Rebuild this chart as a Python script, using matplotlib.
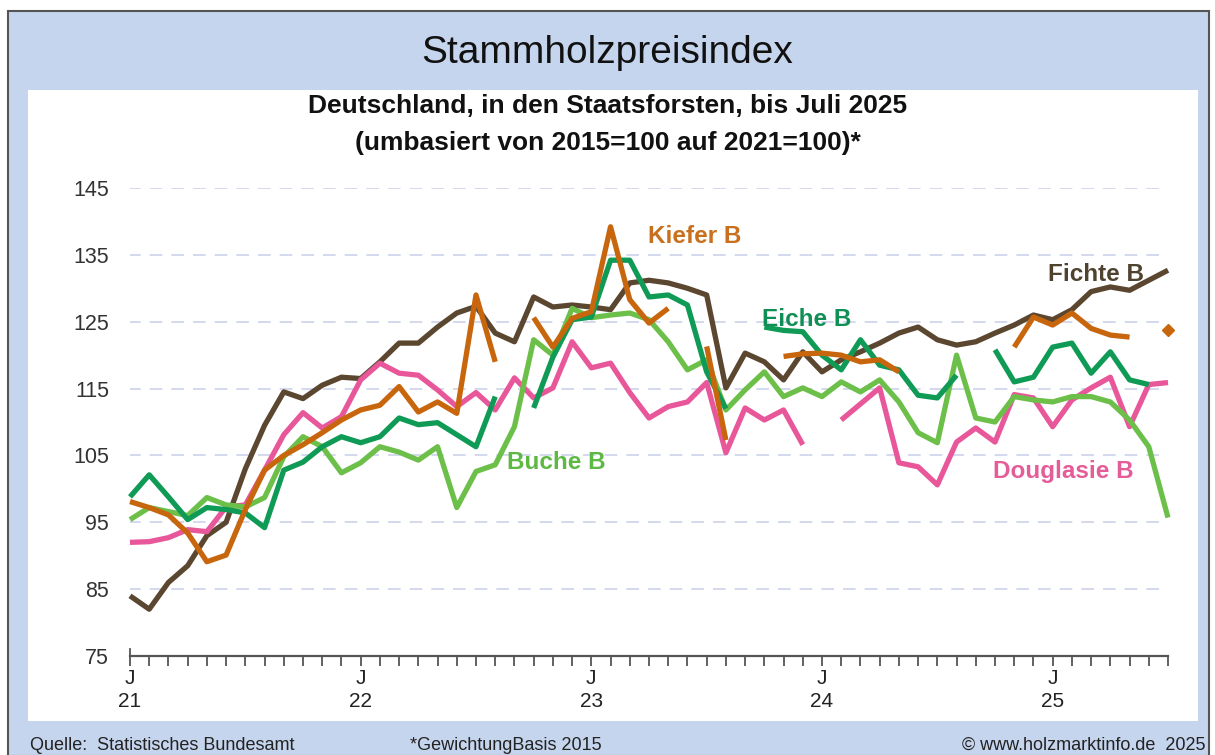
import matplotlib.pyplot as plt
from matplotlib.patches import Rectangle
import numpy as np

nan = np.nan

# monthly index values, Jan 2021 .. Jul 2025 (55 months)
fichte = [84, 82, 86, 88.5, 93, 95, 103, 109.5, 114.5, 113.5, 115.5, 116.7,
          116.5, 119, 121.8, 121.8, 124.2, 126.3, 127.3, 123.3, 122, 128.7, 127.2, 127.5,
          127.2, 126.8, 130.8, 131.2, 130.8, 130, 129, 115.1, 120.3, 119, 116.3, 120.5,
          117.5, 119.3, 120.5, 121.8, 123.3, 124.2, 122.3, 121.5, 122, 123.3, 124.5, 126,
          125.3, 126.8, 129.5, 130.2, 129.7, 131.2, 132.7]
kiefer = [98.1, 97.2, 96.1, 93.4, 89.1, 90.1, 96.9, 102.8, 105, 106.6, 108.4, 110.3,
          111.8, 112.5, 115.3, 111.5, 113, 111.3, 129, 119, nan, 125.6, 121.2, 125.5,
          126.5, 139.2, 128.3, 124.8, 127, nan, 121.3, 107.3, nan, nan, 119.8, 120.2,
          120.3, 120, 119, 119.3, 117.5, nan, nan, nan, nan, nan, 121.2, 125.7,
          124.5, 126.3, 124, 123, 122.7, nan, 123.8]
eiche = [98.8, 102.1, 98.8, 95.4, 97.2, 96.9, 96.4, 94.2, 102.8, 104, 106.3, 107.8,
         106.9, 107.8, 110.6, 109.6, 109.9, 108.1, 106.3, 113.8, nan, 112.1, 119.7, 125.3,
         125.7, 134.2, 134.2, 128.7, 129, 127.5, 117.5, 112, nan, 124.2, 123.7, 123.5,
         120, 117.8, 122.3, 118.5, 117.8, 114, 113.6, 117, nan, 120.8, 116, 116.7,
         121.2, 121.8, 117.3, 120.5, 116.3, 115.6, nan]
buche = [95.4, 97.2, 96.6, 96, 98.7, 97.6, 97.3, 98.7, 104.8, 107.8, 106.3, 102.4,
         103.9, 106.3, 105.5, 104.3, 106.3, 97.2, 102.6, 103.6, 109.3, 122.3, 120, 127,
         125.6, 126, 126.3, 125.3, 122, 117.8, 119.3, 111.8, 114.8, 117.5, 113.8, 115.1,
         113.8, 116, 114.5, 116.3, 113, 108.4, 106.9, 120, 110.6, 110, 113.8, 113.3,
         113, 113.8, 113.8, 113, 110.3, 106.3, 95.7]
douglasie = [92, 92.1, 92.7, 93.9, 93.6, 97.3, 97.6, 102.8, 108.1, 111.4, 109.1, 110.8,
             116.3, 118.8, 117.3, 117, 114.8, 112.3, 114.4, 111.8, 116.6, 113.6, 115.1, 122,
             118.1, 118.8, 114.4, 110.6, 112.3, 113, 115.9, 105.4, 112.1, 110.3, 111.8, 106.6,
             nan, 110.3, 112.7, 115.1, 103.9, 103.3, 100.6, 107, 109.1, 107, 114.1, 113.6,
             109.3, 113.3, 115.1, 116.7, 109.3, 115.6, 115.9]

years = ["21", "22", "23", "24", "25"]
yticks = [75, 85, 95, 105, 115, 125, 135, 145]

W, H = 1215, 755
fig = plt.figure(figsize=(W / 100, H / 100), dpi=100)
fig.patch.set_facecolor("white")
plt.rcParams["font.family"] = ["Liberation Sans", "DejaVu Sans"]

def fx(px):
    return px / W

def fy(py):
    return 1 - py / H

# frame, blue background and white panel
fig.patches.append(Rectangle((fx(8), fy(756)), fx(1209) - fx(8), fy(11) - fy(756),
                             transform=fig.transFigure, facecolor="#C6D5EE",
                             edgecolor="#555555", lw=1.5, zorder=-2))
fig.patches.append(Rectangle((fx(28), fy(721)), fx(1198) - fx(28), fy(90) - fy(721),
                             transform=fig.transFigure, facecolor="white",
                             edgecolor="none", zorder=-1))

fig.text(0.5, fy(53), "Stammholzpreisindex", ha="center", va="center", fontsize=28, color="#111111")
fig.text(0.5, fy(106), "Deutschland, in den Staatsforsten, bis Juli 2025", ha="center", va="center",
         fontsize=19, fontweight="bold", color="#111111")
fig.text(0.5, fy(143), "(umbasiert von 2015=100 auf 2021=100)*", ha="center", va="center",
         fontsize=19, fontweight="bold", color="#111111")

fig.text(fx(30), fy(745), "Quelle:  Statistisches Bundesamt", ha="left", va="center", fontsize=13, color="#222222")
fig.text(fx(410), fy(745), "*GewichtungBasis 2015", ha="left", va="center", fontsize=13, color="#222222")
fig.text(fx(1205), fy(745), "\u00a9 www.holzmarktinfo.de  2025", ha="right", va="center", fontsize=13, color="#222222")

ax = fig.add_axes([fx(130), fy(656), fx(1168) - fx(130), fy(188) - fy(656)])
ax.set_facecolor("none")
ax.set_zorder(2)

x = np.arange(len(fichte))
series = [
    (fichte, "#5B4630"),
    (douglasie, "#E8579A"),
    (buche, "#6CC04A"),
    (eiche, "#0F9A55"),
    (kiefer, "#C8660E"),
]
for vals, col in series:
    ax.plot(x, vals, color=col, lw=3.8, solid_joinstyle="round", solid_capstyle="butt",
            clip_on=False, zorder=3)
# single isolated Kiefer value in Jul 2025
ax.plot(x[-1], kiefer[-1], marker="D", ms=6, color="#C8660E", clip_on=False, zorder=3)

ax.set_xlim(0, 54)
ax.set_ylim(75, 145)
ax.set_yticks(yticks)
ax.set_yticklabels([str(v) for v in yticks])
for v in yticks[1:]:
    ax.axhline(v, color="#D0D6EC", lw=1.3, dashes=(7, 5), zorder=1, xmin=-0.002, xmax=1.002)

ax.set_xticks(x)
labels = []
for i in x:
    labels.append("J\n" + years[i // 12] if i % 12 == 0 else "")
ax.set_xticklabels(labels, linespacing=1.3)
ax.tick_params(axis="x", direction="out", length=7, width=1.3, color="#555555", pad=2,
               labelsize=15, labelcolor="#222222")
ax.tick_params(axis="y", length=0, pad=15, labelsize=15.5, labelcolor="#333333")

for s in ["left", "right", "top"]:
    ax.spines[s].set_visible(False)
ax.spines["bottom"].set_color("#555555")
ax.spines["bottom"].set_linewidth(1.6)
ax.plot([0, 0], [75, 76], color="#555555", lw=1.3, clip_on=False, zorder=2)

lab = dict(fontsize=17.5, fontweight="bold", va="center", ha="left")
ax.text(26.95, 137.8, "Kiefer B", color="#C8701E", **lab)
ax.text(47.75, 132.1, "Fichte B", color="#4F4330", **lab)
ax.text(32.9, 125.4, "Eiche B", color="#0F8F55", **lab)
ax.text(19.6, 103.9, "Buche B", color="#5DB844", **lab)
ax.text(44.9, 102.6, "Douglasie B", color="#E45C98", **lab)

fig.savefig("out.png", dpi=100)
